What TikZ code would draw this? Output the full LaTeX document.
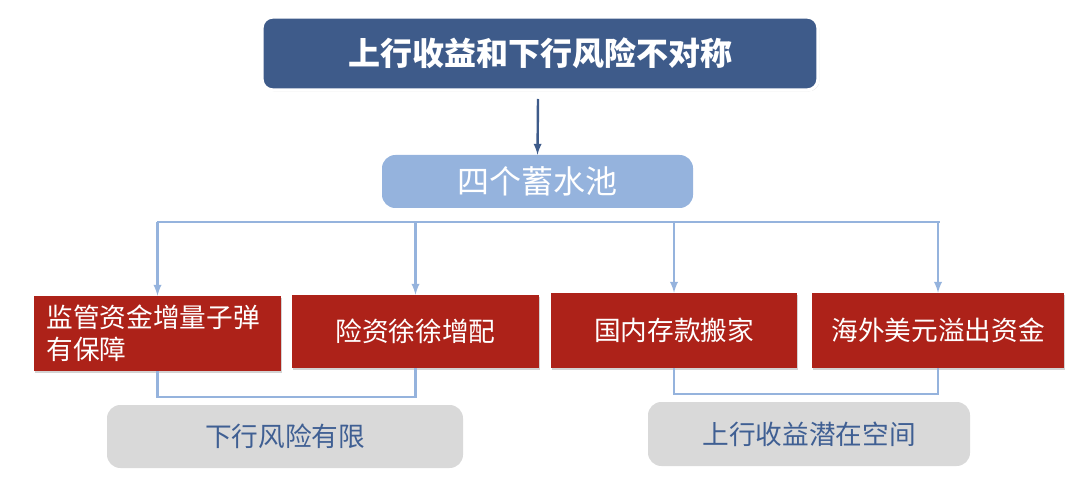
\documentclass[tikz,border=0pt]{standalone}
\usepackage{fontspec}
\setmainfont{Noto Sans CJK SC}
\usetikzlibrary{shadows}

\definecolor{titleblue}{HTML}{3E5B8A}
\definecolor{poolblue}{HTML}{95B3DD}
\definecolor{boxred}{HTML}{AD2219}
\definecolor{notegray}{HTML}{D9D9D9}
\definecolor{notetext}{HTML}{3F5F93}

\tikzset{
    titlebox/.style={fill=titleblue, draw=white, line width=2.5pt, rounded corners=8pt,
        text=white, font=\fontsize{24}{28}\selectfont\bfseries,
        drop shadow={opacity=0.35, shadow xshift=1pt, shadow yshift=-1pt}},
    poolbox/.style={fill=poolblue, rounded corners=10pt, text=white,
        font=\fontsize{24}{28}\selectfont},
    redbox/.style={fill=boxred, text=white, font=\fontsize{20}{24}\selectfont,
        drop shadow={opacity=0.35, shadow xshift=1pt, shadow yshift=-1.5pt}},
    notebox/.style={fill=notegray, rounded corners=10pt, text=notetext,
        font=\fontsize{20}{24}\selectfont},
    link/.style={draw=poolblue, line width=1.8pt},
}

\begin{document}
\begin{tikzpicture}[x=0.75pt, y=-0.75pt]
        \useasboundingbox (0,0) rectangle (1080,484);

        \node[titlebox, minimum width=556*0.75pt, minimum height=73*0.75pt] (title) at (540, 53.5) {上行收益和下行风险不对称};
        \node[poolbox, minimum width=311*0.75pt, minimum height=53*0.75pt] (pool) at (537.5, 181.5) {四个蓄水池};

        \node[redbox, minimum width=247*0.75pt, minimum height=75*0.75pt, text width=222*0.75pt, align=left] (reg) at (157.5, 333.5) {监管资金增量子弹\\有保障};
        \node[redbox, minimum width=247*0.75pt, minimum height=73*0.75pt] (ins) at (415.5, 331.5) {险资徐徐增配};
        \node[redbox, minimum width=246*0.75pt, minimum height=75*0.75pt] (dep) at (674, 330.5) {国内存款搬家};
        \node[redbox, minimum width=252*0.75pt, minimum height=75*0.75pt] (usd) at (938, 330.5) {海外美元溢出资金};

        \node[notebox, minimum width=356*0.75pt, minimum height=63*0.75pt] (down) at (285, 436.5) {下行风险有限};
        \node[notebox, minimum width=322*0.75pt, minimum height=64*0.75pt] (up) at (809, 434) {上行收益潜在空间};

        % top arrow
        \draw[->, >=latex, titleblue, line width=1.8pt] (538, 99) -- (pool.north);

        % bus to the four pools
        \coordinate (busl) at (157, 222);
        \coordinate (busr) at (940, 222);
        \draw[link] (busl) -- (busr);
        \foreach \n in {reg, ins, dep, usd}
            \draw[link, ->, >=latex] (\n.north |- busl) -- (\n.north);

        % brackets
        \draw[link] (reg.south) -- ++(0,26) -| (ins.south);
        \draw[link] (dep.south) -- ++(0,26) -| (usd.south);
    \end{tikzpicture}
\end{document}
